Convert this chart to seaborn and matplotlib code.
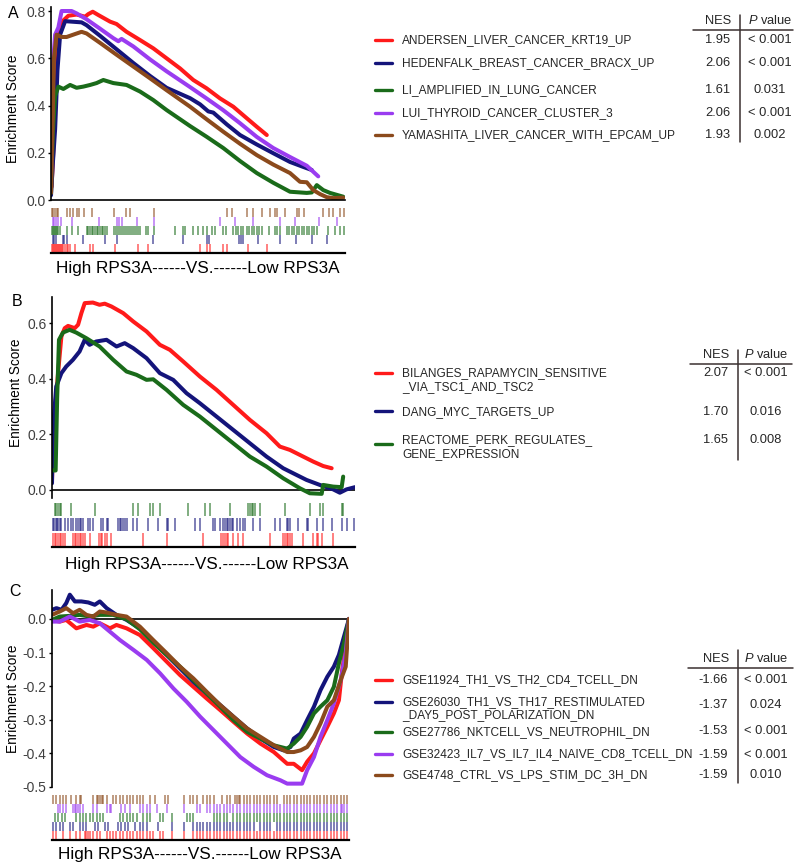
import numpy as np
import pandas as pd
import matplotlib
matplotlib.use("Agg")
import matplotlib.pyplot as plt
import seaborn as sns
from matplotlib.lines import Line2D

# ---------------- DATA ----------------
# Panel A : running enrichment score (x = position in ranked list, %)
A_red_x = [0.2, 0.8, 1.4, 2.2, 2.5, 4.2, 5.9, 8.7, 11.6, 12.7, 14.2, 16.1, 20.1, 22.3, 25.7, 30.3, 34.8, 39.3, 43.9, 48.4, 52.9, 57.5, 62.0, 66.6, 70.0, 73.4]
A_red_y = [0.056, 0.21, 0.52, 0.64, 0.705, 0.76, 0.78, 0.785, 0.776, 0.787, 0.797, 0.783, 0.755, 0.745, 0.712, 0.677, 0.642, 0.60, 0.557, 0.508, 0.473, 0.43, 0.395, 0.346, 0.31, 0.275]
A_navy_x = [0, 0.6, 1.4, 2.2, 3.1, 4.8, 10.4, 12.1, 16.7, 22.3, 28.0, 33.7, 39.3, 47.3, 50.7, 53.5, 55.2, 59.8, 64.3, 70.0, 75.6, 81.3, 85.8, 88.7]
A_navy_y = [0.02, 0.15, 0.30, 0.55, 0.70, 0.757, 0.752, 0.74, 0.695, 0.638, 0.58, 0.525, 0.475, 0.431, 0.405, 0.375, 0.37, 0.32, 0.275, 0.235, 0.198, 0.161, 0.14, 0.127]
A_green_x = [0, 0.6, 1.4, 2.5, 4.2, 6.5, 8.7, 11.0, 13.3, 15.5, 17.8, 21.2, 25.7, 30.3, 34.8, 39.3, 47.3, 52.9, 58.6, 64.3, 70.0, 75.6, 81.3, 87.0, 88.7, 90.4, 92.6, 94.9, 99.4]
A_green_y = [0.03, 0.28, 0.44, 0.48, 0.47, 0.487, 0.475, 0.48, 0.487, 0.495, 0.508, 0.495, 0.487, 0.459, 0.423, 0.381, 0.313, 0.268, 0.22, 0.165, 0.114, 0.073, 0.035, 0.03, 0.032, 0.063, 0.042, 0.03, 0.014]
A_purple_x = [0, 0.5, 0.8, 1.4, 2.5, 3.6, 7.0, 8.7, 12.1, 16.7, 21.2, 22.9, 24.0, 28.0, 33.7, 39.3, 47.3, 52.9, 58.6, 64.3, 70.0, 75.6, 81.3, 87.0, 90.9]
A_purple_y = [0.05, 0.45, 0.60, 0.70, 0.73, 0.80, 0.80, 0.79, 0.765, 0.725, 0.685, 0.672, 0.682, 0.65, 0.595, 0.545, 0.478, 0.43, 0.38, 0.325, 0.267, 0.22, 0.182, 0.145, 0.10]
A_brown_x = [0, 0.5, 1.0, 1.9, 3.6, 5.3, 7.6, 10.4, 12.1, 16.7, 22.3, 28.0, 33.7, 39.3, 47.3, 52.9, 58.6, 64.3, 70.0, 75.6, 81.3, 84.7, 87.0, 89.2, 91.5, 93.8, 96.0, 99.4]
A_brown_y = [0.03, 0.30, 0.60, 0.70, 0.69, 0.69, 0.70, 0.712, 0.705, 0.665, 0.615, 0.565, 0.515, 0.465, 0.395, 0.342, 0.289, 0.238, 0.19, 0.15, 0.114, 0.077, 0.075, 0.042, 0.025, 0.012, 0.008, 0.01]

A_sets = ["ANDERSEN_LIVER_CANCER_KRT19_UP", "HEDENFALK_BREAST_CANCER_BRACX_UP",
          "LI_AMPLIFIED_IN_LUNG_CANCER", "LUI_THYROID_CANCER_CLUSTER_3",
          "YAMASHITA_LIVER_CANCER_WITH_EPCAM_UP"]
A_nes = ["1.95", "2.06", "1.61", "2.06", "1.93"]
A_p = ["< 0.001", "< 0.001", "0.031", "< 0.001", "0.002"]

# hit positions (rug) panel A
A_hits_red = [0.2, 0.6, 0.9, 1.2, 1.6, 1.9, 2.3, 2.6, 2.9, 3.3, 3.6, 4.2, 4.8, 5.3, 5.9, 6.5, 8.2, 13.3, 14.4, 21.8, 29.7, 33.1, 50.7, 52.9, 54.1, 58.6, 59.8, 67.1, 73.4]
A_hits_navy = [0.6, 1.0, 1.7, 4.0, 4.4, 5.3, 10.8, 18.4, 22.6, 34.8, 45.0, 53.2, 53.7, 64.1, 64.6, 65.4, 70.5, 77.9, 83.3, 88.7, 93.8]
A_hits_green = [0.2, 0.6, 0.9, 1.2, 1.6, 1.9, 2.5, 3.1, 5.3, 7.0, 9.3, 12.1, 12.7, 13.3, 13.8, 14.4, 15.0, 15.5, 16.1, 16.7, 17.2, 17.8, 18.4, 18.9,
                21.4, 22.1, 22.8, 23.5, 24.1, 24.8, 25.5, 26.2, 26.9, 27.6, 28.2, 28.9, 29.6, 30.3, 32.3, 33.1, 35.1, 42.2, 45.0, 45.6,
                48.4, 50.1, 51.6, 52.9, 54.6, 55.8, 58.6, 59.5, 62.0, 62.9, 63.7, 64.5, 65.4, 66.6, 67.5, 68.3, 69.0, 70.0, 70.9, 71.7,
                74.0, 76.2, 77.0, 77.9, 80.2, 81.1, 81.9, 82.7, 83.6, 84.5, 85.3, 86.1, 87.0, 87.9, 88.7, 89.5, 90.4, 94.3, 96.6, 98.3, 99.8]
A_hits_purple = [0.6, 1.0, 1.7, 2.5, 3.3, 7.0, 16.4, 22.6, 23.2, 24.0, 29.1, 35.1, 57.5, 62.6, 68.8, 77.9, 83.0, 91.3, 97.2]
A_hits_brown = [0.2, 0.8, 1.4, 1.9, 2.5, 5.3, 6.5, 7.6, 9.0, 9.6, 11.2, 13.8, 21.4, 25.5, 26.9, 35.1, 59.8, 61.5, 66.6, 68.6, 71.7, 74.5, 76.2, 77.0, 79.6, 83.6, 84.5, 86.2, 92.6, 94.4, 96.0, 98.3, 99.8]

# Panel B
B_red_x = [0, 0.3, 0.9, 2.0, 3.1, 4.2, 5.3, 7.5, 8.6, 9.7, 10.8, 13.5, 15.7, 17.4, 19.6, 23.5, 26.8, 31.2, 35.6, 38.9, 43.3, 48.8, 54.3, 59.8, 65.3, 70.8, 75.2, 78.5, 81.8, 86.2, 89.5, 92.3]
B_red_y = [0.036, 0.156, 0.276, 0.42, 0.552, 0.582, 0.59, 0.582, 0.594, 0.636, 0.672, 0.674, 0.666, 0.67, 0.66, 0.636, 0.606, 0.57, 0.522, 0.504, 0.462, 0.408, 0.36, 0.306, 0.252, 0.204, 0.156, 0.144, 0.126, 0.102, 0.086, 0.078]
B_navy_x = [0, 0.3, 1.4, 3.1, 4.7, 6.9, 9.1, 10.8, 12.4, 14.6, 18.0, 21.3, 24.0, 26.8, 31.2, 35.6, 40.0, 44.4, 48.8, 54.3, 59.8, 65.3, 70.8, 76.3, 79.6, 84.0, 88.4, 92.8, 95.0, 97.2, 100]
B_navy_y = [0.024, 0.216, 0.372, 0.42, 0.444, 0.468, 0.498, 0.54, 0.522, 0.534, 0.54, 0.516, 0.528, 0.51, 0.474, 0.42, 0.396, 0.348, 0.312, 0.264, 0.216, 0.168, 0.12, 0.078, 0.06, 0.036, 0.018, 0.002, -0.01, 0.002, 0.01]
B_green_x = [0.3, 1.2, 1.7, 2.3, 3.6, 5.8, 8.0, 11.3, 15.7, 20.2, 24.6, 27.9, 31.2, 33.4, 37.8, 43.3, 48.8, 54.3, 59.8, 65.3, 70.8, 76.3, 81.8, 85.1, 89.0, 89.5, 92.8, 95.6, 96.1]
B_green_y = [0.07, 0.07, 0.33, 0.54, 0.566, 0.576, 0.566, 0.546, 0.516, 0.468, 0.426, 0.414, 0.396, 0.398, 0.36, 0.306, 0.264, 0.216, 0.168, 0.12, 0.084, 0.042, 0.006, -0.012, -0.014, 0.018, 0.012, 0.01, 0.048]

B_sets = [["BILANGES_RAPAMYCIN_SENSITIVE", "_VIA_TSC1_AND_TSC2"], ["DANG_MYC_TARGETS_UP"],
          ["REACTOME_PERK_REGULATES_", "GENE_EXPRESSION"]]
B_nes = ["2.07", "1.70", "1.65"]
B_p = ["< 0.001", "0.016", "0.008"]

B_hits_green = [0.9, 1.4, 2.0, 2.5, 3.1, 6.4, 14.1, 26.8, 28.4, 32.3, 33.4, 35.6, 44.9, 50.4, 52.1, 58.7, 64.8, 65.3, 65.9, 66.4, 67.0, 68.6, 76.9, 85.1, 88.4, 89.5, 95.6, 96.1]
B_hits_navy = [0.3, 0.8, 1.2, 1.7, 2.1, 2.5, 3.1, 4.2, 5.3, 6.4, 6.9, 8.0, 8.6, 9.1, 9.7, 10.2, 11.9, 12.4, 13.5, 16.3, 16.9, 18.0, 18.5, 21.8, 22.4, 22.9, 23.5, 24.0, 24.6,
               26.8, 27.9, 31.7, 35.0, 37.8, 38.3, 40.5, 47.1, 48.8, 53.2, 53.7, 55.4, 56.3, 57.0, 57.6, 58.1, 58.7, 59.3, 59.8, 60.9, 62.0, 63.1, 63.7,
               66.4, 68.6, 73.6, 75.2, 77.4, 78.0, 78.5, 81.3, 84.0, 84.6, 87.3, 89.5, 92.3, 95.6, 97.2, 99.8]
B_hits_red = [0.3, 0.9, 1.4, 2.0, 2.5, 3.1, 3.6, 4.2, 6.9, 7.5, 8.0, 8.6, 9.1, 9.7, 10.2, 10.8, 12.4, 15.5, 16.1, 16.6, 17.4, 18.0, 19.6, 30.1, 37.8, 49.9,
              55.9, 56.5, 57.0, 57.6, 58.1, 59.8, 61.5, 63.1, 71.9, 76.3, 76.9, 77.4, 78.0, 78.5, 79.1, 82.9, 86.2, 87.3, 87.9, 89.0, 92.8]

# Panel C
C_red_x = [0, 2.6, 4.8, 8.2, 11.6, 13.9, 16.1, 19.5, 21.7, 25.1, 29.6, 34.1, 38.6, 43.1, 47.6, 52.1, 56.6, 61.1, 65.7, 70.2, 74.7, 79.2, 81.4, 84.2, 85.9, 88.2, 90.4, 92.7, 94.9, 96.6, 97.7, 98.9, 100]
C_red_y = [-0.003, -0.008, -0.003, -0.028, -0.018, -0.023, -0.013, -0.028, -0.018, -0.028, -0.048, -0.087, -0.127, -0.167, -0.202, -0.237, -0.271, -0.306, -0.341, -0.371, -0.396, -0.431, -0.431, -0.45, -0.425, -0.40, -0.361, -0.321, -0.281, -0.242, -0.152, -0.083, 0.0]
C_navy_x = [0, 1.5, 3.2, 4.8, 6.0, 7.7, 9.9, 12.2, 14.4, 16.1, 18.4, 21.7, 25.1, 29.6, 34.1, 38.6, 43.1, 47.6, 52.1, 56.6, 61.1, 65.7, 70.2, 74.7, 78.0, 80.3, 81.4, 83.7, 85.9, 88.2, 90.4, 92.7, 94.9, 96.6, 98.3, 100]
C_navy_y = [0.027, 0.032, 0.027, 0.047, 0.072, 0.052, 0.052, 0.049, 0.042, 0.052, 0.032, 0.012, -0.003, -0.028, -0.068, -0.107, -0.147, -0.187, -0.222, -0.256, -0.291, -0.326, -0.356, -0.381, -0.391, -0.381, -0.356, -0.341, -0.301, -0.261, -0.212, -0.172, -0.142, -0.107, -0.053, 0.0]
C_green_x = [0, 2.6, 6.0, 9.3, 12.7, 16.1, 20.6, 25.1, 29.6, 34.1, 38.6, 43.1, 47.6, 52.1, 56.6, 61.1, 65.7, 70.2, 74.7, 79.2, 81.4, 83.7, 85.9, 88.2, 90.4, 92.7, 94.9, 96.6, 98.3, 100]
C_green_y = [-0.003, 0.007, 0.009, 0.012, 0.007, 0.012, 0.012, -0.001, -0.031, -0.071, -0.107, -0.142, -0.182, -0.222, -0.261, -0.301, -0.336, -0.356, -0.376, -0.386, -0.371, -0.351, -0.321, -0.281, -0.261, -0.242, -0.202, -0.132, -0.073, 0.0]
C_purple_x = [0, 2.6, 6.0, 9.3, 12.7, 16.1, 19.5, 22.9, 27.4, 31.9, 36.4, 40.9, 45.4, 49.9, 54.4, 58.9, 63.4, 67.9, 72.4, 76.9, 79.2, 81.4, 84.2, 85.9, 88.2, 90.4, 92.7, 94.9, 97.2, 98.9, 100]
C_purple_y = [-0.008, -0.008, 0.007, -0.008, -0.003, -0.013, -0.038, -0.063, -0.092, -0.122, -0.162, -0.207, -0.247, -0.291, -0.331, -0.371, -0.411, -0.44, -0.465, -0.48, -0.49, -0.49, -0.49, -0.45, -0.411, -0.351, -0.301, -0.251, -0.182, -0.102, 0.0]
C_brown_x = [0, 2.6, 4.8, 7.1, 9.3, 11.6, 13.9, 16.1, 18.4, 21.7, 25.1, 29.6, 34.1, 38.6, 43.1, 47.6, 52.1, 56.6, 61.1, 65.7, 70.2, 74.7, 79.2, 81.4, 83.7, 85.9, 88.2, 90.4, 92.7, 94.9, 97.2, 98.9, 100]
C_brown_y = [0.012, 0.022, 0.032, 0.017, 0.027, 0.012, 0.007, 0.022, 0.019, 0.012, 0.007, -0.023, -0.063, -0.102, -0.142, -0.177, -0.217, -0.256, -0.291, -0.326, -0.351, -0.376, -0.396, -0.396, -0.391, -0.381, -0.351, -0.311, -0.261, -0.242, -0.182, -0.142, 0.0]

C_sets = [["GSE11924_TH1_VS_TH2_CD4_TCELL_DN"], ["GSE26030_TH1_VS_TH17_RESTIMULATED", "_DAY5_POST_POLARIZATION_DN"],
          ["GSE27786_NKTCELL_VS_NEUTROPHIL_DN"], ["GSE32423_IL7_VS_IL7_IL4_NAIVE_CD8_TCELL_DN"],
          ["GSE4748_CTRL_VS_LPS_STIM_DC_3H_DN"]]
C_nes = ["-1.66", "-1.37", "-1.53", "-1.59", "-1.59"]
C_p = ["< 0.001", "0.024", "< 0.001", "< 0.001", "0.010"]

C_hits_brown = [0.3, 1.5, 2.6, 3.7, 4.8, 6.5, 8.2, 9.3, 9.9, 13.9, 15.0, 15.5, 16.1, 16.7, 17.2, 18.4, 20.6, 21.7, 22.9, 24.0, 25.1, 26.2, 27.4, 28.5, 29.6, 30.7, 33.0, 34.7, 38.1, 39.2,
                44.3, 46.5, 47.6, 48.8, 51.0, 52.1, 53.3, 54.4, 57.2, 58.9, 60.0, 61.7, 62.3, 62.8, 63.4, 64.5, 65.7, 66.8, 67.9, 69.0, 70.2, 71.3, 72.4, 73.5, 74.7, 75.8,
                78.0, 79.2, 80.3, 81.4, 82.5, 83.7, 84.8, 85.9, 87.0, 88.2, 89.3, 90.4, 91.6, 92.7, 93.8, 94.9, 96.1, 97.2, 98.3, 99.4]
C_hits_purple = [2.0, 2.6, 3.7, 4.8, 7.1, 7.7, 8.2, 8.8, 9.3, 10.5, 13.9, 15.0, 18.4, 19.5, 20.0, 23.4, 24.5, 26.2, 29.6, 30.7, 31.9, 33.0, 35.2, 38.6, 44.3, 48.8, 49.9,
                 52.1, 53.3, 54.4, 55.5, 56.6, 57.8, 58.9, 60.0, 61.1, 62.3, 63.4, 64.5, 65.7, 66.8, 67.9, 69.0, 70.2, 71.3, 72.4, 73.5, 74.7, 75.8, 76.9, 78.0,
                 79.2, 80.3, 81.4, 82.5, 83.7, 84.8, 85.9, 87.0, 88.2, 89.3, 90.4, 91.6, 92.7, 93.8, 94.9, 96.1, 97.2, 97.8, 98.3, 99.4]
C_hits_green = [0.9, 2.0, 3.2, 4.3, 8.2, 9.3, 10.5, 11.6, 12.7, 13.9, 15.0, 16.1, 17.2, 22.9, 24.0, 25.1, 26.2, 27.4, 28.5, 30.7, 31.9, 33.0, 36.4, 37.5, 40.3, 45.4, 46.5, 47.6,
                54.4, 55.5, 56.6, 57.8, 58.9, 61.1, 62.3, 63.4, 64.5, 65.7, 66.8, 67.9, 69.0, 70.2, 71.3, 72.4, 73.5, 74.7, 75.8, 76.9, 78.0, 79.2, 80.3,
                81.4, 82.5, 83.7, 84.8, 85.9, 87.0, 88.2, 89.3, 90.4, 91.6, 92.7, 93.8, 94.9, 96.1, 97.2, 98.3, 99.4]
C_hits_navy = [0.3, 1.5, 2.6, 3.7, 6.0, 7.1, 9.3, 10.5, 11.6, 14.4, 15.5, 17.8, 18.9, 22.3, 23.4, 24.5, 25.7, 27.9, 29.6, 30.7, 31.9, 35.8, 40.3, 44.3, 47.6, 48.8, 49.9,
               51.0, 52.1, 53.3, 54.4, 55.5, 56.6, 57.8, 58.9, 60.0, 61.1, 62.3, 63.4, 64.5, 65.7, 66.8, 67.9, 70.2, 71.3, 72.4, 73.5, 75.8, 76.9, 78.0,
               79.2, 80.3, 81.4, 82.5, 83.7, 84.8, 85.9, 87.0, 88.2, 89.3, 90.4, 91.6, 92.7, 93.8, 94.9, 96.1, 97.2, 98.3, 99.4]
C_hits_red = [0.3, 1.5, 3.7, 6.0, 8.2, 9.3, 11.0, 11.6, 12.2, 12.7, 13.9, 15.0, 16.1, 18.4, 19.5, 20.6, 21.7, 22.9, 24.0, 25.1, 26.2, 27.4, 28.5, 29.6, 30.7, 31.9, 33.0, 34.1,
              36.4, 37.5, 40.3, 44.3, 47.6, 48.8, 49.9, 51.0, 52.1, 53.3, 54.4, 55.5, 56.6, 57.8, 58.9, 60.0, 61.1, 62.3, 63.4, 64.5, 65.7, 66.8, 67.9,
              69.0, 70.2, 71.3, 72.4, 73.5, 74.7, 75.8, 76.9, 78.0, 79.2, 80.3, 81.4, 82.5, 83.7, 84.8, 85.9, 87.0, 88.2, 89.3, 90.4, 91.6, 92.7,
              93.8, 94.9, 96.1, 97.2, 98.3, 99.4]

XLABEL = "High RPS3A------VS.------Low RPS3A"

# ---------------- STYLE ----------------
sns.set_theme(style="white")
plt.rcParams['font.family'] = ['Liberation Sans', 'DejaVu Sans']
plt.rcParams['axes.unicode_minus'] = False
plt.rcParams['mathtext.fontset'] = 'custom'
plt.rcParams['mathtext.rm'] = 'Liberation Sans'
plt.rcParams['mathtext.it'] = 'Liberation Sans:italic'

RED, NAVY, GREEN, PURPLE, BROWN = "#ff1a1a", "#14147a", "#1a6b1a", "#9a3cf0", "#8b4a1c"
TBL = "#3a3030"

W, H = 800, 865
fig = plt.figure(figsize=(8, 8.65), dpi=100)


def add_ax(l, t, r, b):
    return fig.add_axes([l / W, 1 - b / H, (r - l) / W, (b - t) / H])


def ftext(x, y, s, **kw):
    fig.text(x / W, 1 - y / H, s, **kw)


def fline(x0, y0, x1, y1, **kw):
    fig.add_artist(Line2D([x0 / W, x1 / W], [1 - y0 / H, 1 - y1 / H], transform=fig.transFigure, **kw))


def curves(ax, series):
    frames = []
    for name, xs, ys, col in series:
        frames.append(pd.DataFrame({"rank": xs, "es": ys, "set": name}))
    df = pd.concat(frames, ignore_index=True)
    pal = {name: col for name, _, _, col in series}
    sns.lineplot(data=df, x="rank", y="es", hue="set", palette=pal, hue_order=[s[0] for s in series],
                 estimator=None, sort=False, lw=2.9, legend=False, ax=ax)
    ax.set_xlim(0, 100)
    ax.set_xlabel("")
    ax.set_ylabel("")
    ax.set_xticks([])
    for sp in ["top", "right"]:
        ax.spines[sp].set_visible(False)
    ax.spines["left"].set_color("black")
    ax.spines["left"].set_linewidth(1.2)
    ax.tick_params(axis="y", left=True, length=2.5, width=1, pad=1.5, labelsize=10, labelcolor="#404040", color="black")


def rug(ax, rows):
    # rows listed from top to bottom
    n = len(rows)
    for i, (hits, col) in enumerate(rows):
        lo = n - 1 - i
        ax.vlines(hits, lo + 0.04, lo + 0.96, color=col, lw=1.1, alpha=0.7)
    ax.set_xlim(0, 100)
    ax.set_ylim(0, n)
    ax.set_xticks([])
    ax.set_yticks([])
    for sp in ["top", "right", "left"]:
        ax.spines[sp].set_visible(False)
    ax.spines["bottom"].set_color("black")
    ax.spines["bottom"].set_linewidth(1.6)
    ax.patch.set_alpha(0)


# ---------------- PANEL A ----------------
axA = add_ax(51, 7, 345, 200)
curves(axA, [(A_sets[0], A_red_x, A_red_y, RED), (A_sets[1], A_navy_x, A_navy_y, NAVY),
             (A_sets[2], A_green_x, A_green_y, GREEN), (A_sets[3], A_purple_x, A_purple_y, PURPLE),
             (A_sets[4], A_brown_x, A_brown_y, BROWN)])
axA.set_ylim(0, 0.817)
axA.set_yticks([0, 0.2, 0.4, 0.6, 0.8])
axA.set_yticklabels([f"{v:.1f}" for v in [0, 0.2, 0.4, 0.6, 0.8]])
axA.spines["bottom"].set_color("black")
axA.spines["bottom"].set_linewidth(1.2)
rA = add_ax(51, 208, 345, 253)
rug(rA, [(A_hits_brown, BROWN), (A_hits_purple, PURPLE), (A_hits_green, GREEN), (A_hits_navy, NAVY), (A_hits_red, RED)])
ftext(198, 269, XLABEL, fontsize=12.3, ha="center", va="center", color="black")
ftext(13, 109, "Enrichment Score", fontsize=9.8, rotation=90, ha="center", va="center", color="black")
ftext(13, 13, "A", fontsize=11.5, ha="center", va="center", color="black")

# legend / table A
A_rows = [40, 63, 90, 113, 135]
A_cols = [RED, NAVY, GREEN, PURPLE, BROWN]
ftext(718, 21, "NES", fontsize=9.3, ha="center", va="center")
ftext(770, 21, "$\\it{P}$ value", fontsize=9.3, ha="center", va="center")
fline(693, 30, 793, 30, color=TBL, lw=1.1)
fline(740, 15, 740, 142, color=TBL, lw=1.1)
for y, name, col, nes, p in zip(A_rows, A_sets, A_cols, A_nes, A_p):
    fline(375, y, 392, y, color=col, lw=2.4)
    ftext(402, y, name, fontsize=8.6, ha="left", va="center")
    ftext(730, y, nes, fontsize=9.3, ha="right", va="center")
    ftext(770, y, p, fontsize=9.3, ha="center", va="center")

# ---------------- PANEL B ----------------
axB = add_ax(52, 297, 355, 498)
curves(axB, [("B1", B_red_x, B_red_y, RED), ("B2", B_navy_x, B_navy_y, NAVY), ("B3", B_green_x, B_green_y, GREEN)])
axB.set_ylim(-0.029, 0.694)
axB.set_yticks([0, 0.2, 0.4, 0.6])
axB.set_yticklabels([f"{v:.1f}" for v in [0, 0.2, 0.4, 0.6]])
axB.spines["bottom"].set_visible(False)
axB.axhline(0, color="black", lw=1.2, zorder=0)
rB = add_ax(52, 502, 355, 547)
rug(rB, [(B_hits_green, GREEN), (B_hits_navy, NAVY), (B_hits_red, RED)])
ftext(207, 564, XLABEL, fontsize=12.3, ha="center", va="center", color="black")
ftext(16, 393, "Enrichment Score", fontsize=9.8, rotation=90, ha="center", va="center", color="black")
ftext(17, 302, "B", fontsize=11.5, ha="center", va="center", color="black")

ftext(716, 355, "NES", fontsize=9.3, ha="center", va="center")
ftext(766, 355, "$\\it{P}$ value", fontsize=9.3, ha="center", va="center")
fline(690, 364, 792, 364, color=TBL, lw=1.1)
fline(738, 350, 738, 460, color=TBL, lw=1.1)
B_marker_y = [373, 411, 444]
B_text_y = [[373, 387], [412], [440, 454]]
B_val_y = [373, 412, 440]
for names, ys, my, vy, col, nes, p in zip(B_sets, B_text_y, B_marker_y, B_val_y, [RED, NAVY, GREEN], B_nes, B_p):
    fline(375, my, 392, my, color=col, lw=2.4)
    for nm, ty in zip(names, ys):
        ftext(402, ty, nm, fontsize=8.6, ha="left", va="center")
    ftext(728, vy, nes, fontsize=9.3, ha="right", va="center")
    ftext(766, vy, p, fontsize=9.3, ha="center", va="center")

# ---------------- PANEL C ----------------
axC = add_ax(52, 590, 349, 787)
curves(axC, [("C1", C_red_x, C_red_y, RED), ("C2", C_navy_x, C_navy_y, NAVY), ("C3", C_green_x, C_green_y, GREEN),
             ("C4", C_purple_x, C_purple_y, PURPLE), ("C5", C_brown_x, C_brown_y, BROWN)])
axC.set_ylim(-0.5, 0.086)
cticks = [0, -0.1, -0.2, -0.3, -0.4, -0.5]
axC.set_yticks(cticks)
axC.set_yticklabels([f"{v:.1f}" for v in cticks])
axC.spines["bottom"].set_visible(False)
axC.axhline(0, color="black", lw=1.2, zorder=0)
rC = add_ax(52, 795, 349, 840)
rug(rC, [(C_hits_brown, BROWN), (C_hits_purple, PURPLE), (C_hits_green, GREEN), (C_hits_navy, NAVY), (C_hits_red, RED)])
ftext(200, 855, XLABEL, fontsize=12.3, ha="center", va="center", color="black")
ftext(13, 699, "Enrichment Score", fontsize=9.8, rotation=90, ha="center", va="center", color="black")
ftext(15, 591, "C", fontsize=11.5, ha="center", va="center", color="black")

ftext(716, 659, "NES", fontsize=9.3, ha="center", va="center")
ftext(766, 659, "$\\it{P}$ value", fontsize=9.3, ha="center", va="center")
fline(688, 668, 793, 668, color=TBL, lw=1.1)
fline(738, 650, 738, 783, color=TBL, lw=1.1)
C_marker_y = [680, 702, 732, 754, 775]
C_text_y = [[680], [702, 715], [732], [754], [775]]
C_val_y = [680, 705, 731, 755, 775]
for names, ys, my, vy, col, nes, p in zip(C_sets, C_text_y, C_marker_y, C_val_y, [RED, NAVY, GREEN, PURPLE, BROWN], C_nes, C_p):
    fline(375, my, 392, my, color=col, lw=2.4)
    for nm, ty in zip(names, ys):
        ftext(402, ty, nm, fontsize=8.6, ha="left", va="center")
    ftext(728, vy, nes, fontsize=9.3, ha="right", va="center")
    ftext(766, vy, p, fontsize=9.3, ha="center", va="center")

fig.savefig("out.png", dpi=100)
